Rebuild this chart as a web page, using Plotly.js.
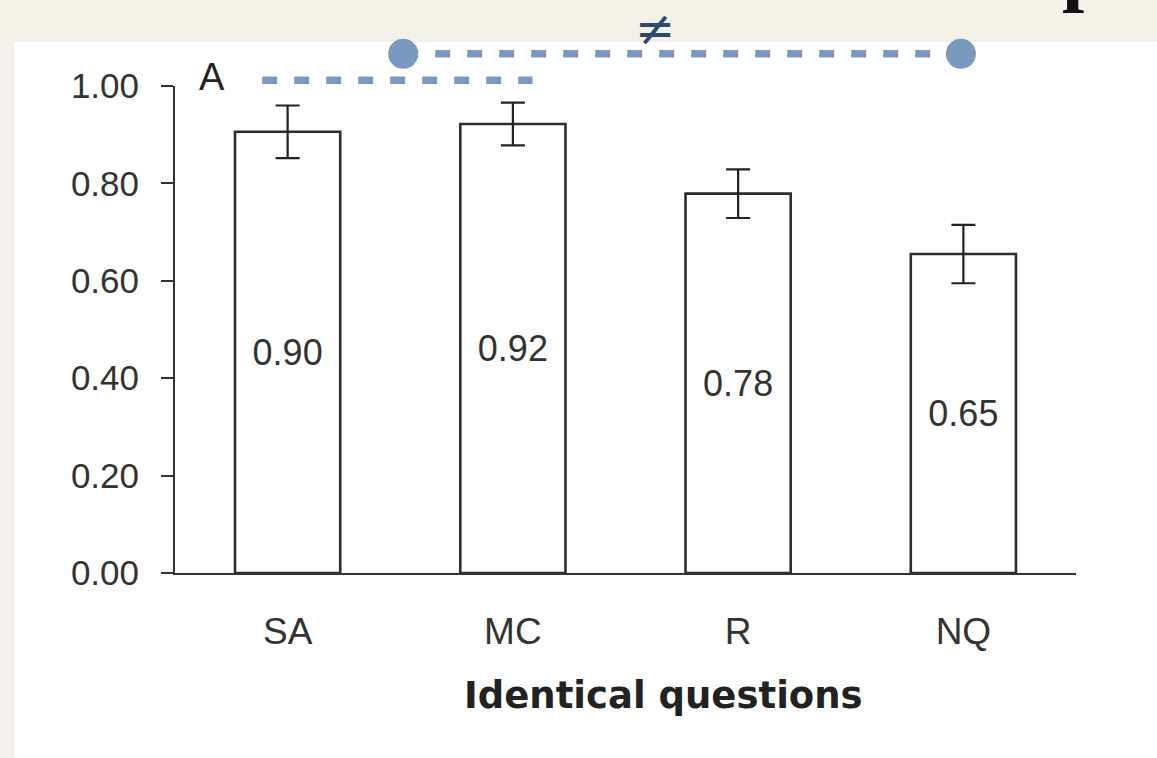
<!DOCTYPE html>
<html>
<head>
<meta charset="utf-8">
<script src="https://cdn.plot.ly/plotly-3.0.1.min.js"></script>
<style>
  html, body { margin: 0; padding: 0; background: #f3f0ea; }
  #chart { width: 1157px; height: 758px; }
</style>
</head>
<body>
<div id="chart"></div>
<script>
// ---- data ----
const categories = ['SA', 'MC', 'R', 'NQ'];
const means = [0.906, 0.922, 0.779, 0.655];
const errors = [0.054, 0.044, 0.050, 0.060];
const barLabels = ['0.90', '0.92', '0.78', '0.65'];
const yTickVals = [0, 0.2, 0.4, 0.6, 0.8, 1.0];
const yTickText = ['0.00', '0.20', '0.40', '0.60', '0.80', '1.00'];
const xTitle = 'Identical questions';
const panelLabel = 'A';
const neqSymbol = '\u2260';
// comparison brackets, in category-index units (x) and value units (y)
const shortBracketX = [-0.113, 1.087];
const shortBracketY = 1.012;
const longBracketX = [0.513, 2.989];
const longBracketY = 1.066;

const blue = '#7b98bf';
const ink = '#333333';
const catIndex = categories.map((c, i) => i);

const bars = {
  type: 'bar',
  x: catIndex,
  y: means,
  width: 0.467,
  marker: { color: '#ffffff', line: { color: '#2e2e2e', width: 2.6 } },
  error_y: { type: 'data', array: errors, visible: true, color: '#222222', thickness: 2.2, width: 12 },
  text: barLabels,
  textposition: 'inside',
  insidetextanchor: 'middle',
  textangle: 0,
  insidetextfont: { family: 'Liberation Sans, Arial, sans-serif', size: 36, color: ink },
  hoverinfo: 'skip',
  showlegend: false
};

function dot(xv, yv) {
  return { type: 'circle', xref: 'x', yref: 'paper', xsizemode: 'pixel', ysizemode: 'pixel',
    xanchor: xv, yanchor: yv, x0: -15, x1: 15, y0: -15, y1: 15,
    fillcolor: blue, line: { width: 0 }, layer: 'above' };
}

const layout = {
  width: 1157,
  height: 758,
  margin: { l: 175, r: 81, t: 86, b: 185 },
  paper_bgcolor: '#f3f0ea',
  plot_bgcolor: 'rgba(0,0,0,0)',
  font: { family: 'Liberation Sans, Arial, sans-serif', color: ink },
  xaxis: {
    type: 'linear',
    range: [-0.5, 3.5],
    tickvals: catIndex,
    ticktext: categories,
    showgrid: false,
    zeroline: false,
    showline: true,
    linecolor: '#333333',
    linewidth: 2,
    ticks: '',
    ticklabelstandoff: 25,
    tickfont: { size: 37, color: ink }
  },
  yaxis: {
    range: [0, 1],
    tickvals: yTickVals,
    ticktext: yTickText,
    showgrid: false,
    zeroline: false,
    showline: true,
    linecolor: '#333333',
    linewidth: 2,
    ticks: 'outside',
    ticklen: 12,
    tickwidth: 2,
    tickcolor: '#333333',
    ticklabelstandoff: 15,
    tickfont: { size: 35, color: ink }
  },
  shapes: [
    { type: 'rect', xref: 'paper', yref: 'paper', x0: -0.1787, x1: 1.2, y0: -0.6, y1: 1.0903,
      fillcolor: '#ffffff', line: { width: 0 }, layer: 'below' },
    { type: 'line', xref: 'x', yref: 'paper', x0: shortBracketX[0], x1: shortBracketX[1],
      y0: shortBracketY, y1: shortBracketY, line: { color: blue, width: 7.5, dash: '15px,17px' }, layer: 'above' },
    { type: 'line', xref: 'x', yref: 'paper', x0: longBracketX[0], x1: longBracketX[1],
      y0: longBracketY, y1: longBracketY, line: { color: blue, width: 7.5, dash: '15px,17px' }, layer: 'above' },
    dot(longBracketX[0], longBracketY),
    dot(longBracketX[1], longBracketY)
  ],
  annotations: [
    { text: xTitle, xref: 'paper', yref: 'paper', x: 0.5427, y: -0.251, xanchor: 'center', yanchor: 'middle',
      showarrow: false, font: { family: 'DejaVu Sans, sans-serif', size: 37, weight: 'bold', color: '#222222' } },
    { text: panelLabel, xref: 'paper', yref: 'paper', x: 0.0245, y: 1.018, xanchor: 'left', yanchor: 'middle',
      showarrow: false, font: { size: 38, color: '#222222' } },
    { text: neqSymbol, xref: 'paper', yref: 'paper', x: 0.5327, y: 1.1201, xanchor: 'center', yanchor: 'middle',
      showarrow: false, font: { family: 'DejaVu Sans, sans-serif', size: 48, color: '#2d4a6c' } },
    { text: 'p', xref: 'paper', yref: 'paper', x: 1.009, y: 1.145, xanchor: 'center', yanchor: 'bottom',
      showarrow: false, font: { family: 'Liberation Serif, serif', size: 80, weight: 'bold', color: '#111111' } }
  ]
};

Plotly.newPlot('chart', [bars], layout, { staticPlot: true, displayModeBar: false });
</script>
</body>
</html>
